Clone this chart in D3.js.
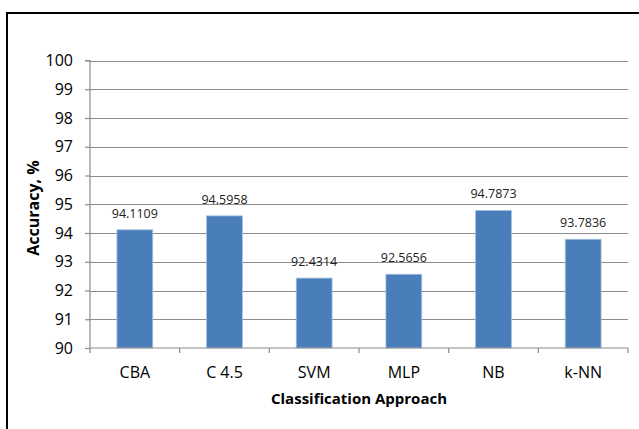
<!DOCTYPE html>
<html>
<head>
<meta charset="utf-8">
<script src="https://cdn.jsdelivr.net/npm/d3@7"></script>
<style>
  html, body { margin: 0; padding: 0; background: #fff; }
  svg { display: block; }
  text { font-family: "Open Sans", "Liberation Sans", sans-serif; fill: #000; }
</style>
</head>
<body>
<svg id="chart" width="639" height="429"></svg>
<script>
// Classification accuracy per approach
const categories = ["CBA", "C 4.5", "SVM", "MLP", "NB", "k-NN"];
const accuracy = [94.1109, 94.5958, 92.4314, 92.5656, 94.7873, 93.7836];
const yTicks = [90, 91, 92, 93, 94, 95, 96, 97, 98, 99, 100];

const svg = d3.select("#chart");
const margin = { left: 90, right: 11, top: 60.5, bottom: 81 };
const W = 639, H = 429;

// outer frame
svg.append("rect")
  .attr("x", 7).attr("y", 13)
  .attr("width", W + 10).attr("height", H + 10)
  .attr("fill", "none").attr("stroke", "#000").attr("stroke-width", 2);

const x = d3.scaleBand()
  .domain(categories)
  .range([margin.left, W - margin.right])
  .paddingInner(0.6).paddingOuter(0.3);

const y = d3.scaleLinear()
  .domain([90, 100])
  .range([H - margin.bottom, margin.top]);

// horizontal gridlines
svg.append("g")
  .selectAll("line")
  .data(yTicks.slice(1))
  .join("line")
  .attr("x1", margin.left).attr("x2", W - margin.right)
  .attr("y1", d => Math.round(y(d)) + 0.5).attr("y2", d => Math.round(y(d)) + 0.5)
  .attr("stroke", "#8c8c8c").attr("stroke-width", 1.2);

// bars
svg.append("g")
  .selectAll("rect")
  .data(categories)
  .join("rect")
  .attr("x", (d) => x(d))
  .attr("width", x.bandwidth())
  .attr("y", (d, i) => y(accuracy[i]))
  .attr("height", (d, i) => y(90) - y(accuracy[i]))
  .attr("fill", "#4a7ebb")
  .attr("stroke", "#a9c2e2").attr("stroke-width", 0.8);

// value labels
svg.append("g")
  .selectAll("text")
  .data(categories)
  .join("text")
  .attr("x", d => x(d) + x.bandwidth() / 2)
  .attr("y", (d, i) => y(accuracy[i]) - 12)
  .attr("text-anchor", "middle")
  .style("font-size", "12.5px")
  .style("fill", "#222")
  .text((d, i) => accuracy[i].toFixed(4));

// y axis
const yAxis = svg.append("g")
  .attr("transform", `translate(${margin.left},0)`)
  .call(d3.axisLeft(y).tickValues(yTicks).tickSize(5).tickPadding(12).tickFormat(d3.format("d")));
yAxis.select(".domain").attr("stroke", "#8c8c8c").attr("stroke-width", 1.2).attr("d", `M-5,${y(100)}H0V${y(90)}`);
yAxis.selectAll(".tick line").attr("stroke", "#8c8c8c").attr("stroke-width", 1.2);
yAxis.selectAll(".tick text").style("font-size", "16px").style("font-family", "'Open Sans', sans-serif").attr("fill", "#000");

// x axis with boundary ticks between categories
const xAxisG = svg.append("g").attr("transform", `translate(0,${y(90)})`);
xAxisG.append("line")
  .attr("x1", margin.left).attr("x2", W - margin.right)
  .attr("y1", 0).attr("y2", 0)
  .attr("stroke", "#8c8c8c").attr("stroke-width", 1.2);
const boundaries = d3.range(categories.length + 1).map(i => margin.left + (W - margin.left - margin.right) * i / categories.length);
xAxisG.selectAll(".bt")
  .data(boundaries)
  .join("line")
  .attr("x1", d => d).attr("x2", d => d)
  .attr("y1", 0).attr("y2", 5)
  .attr("stroke", "#8c8c8c").attr("stroke-width", 1.2);
xAxisG.selectAll(".xl")
  .data(categories)
  .join("text")
  .attr("x", d => x(d) + x.bandwidth() / 2)
  .attr("y", 30)
  .attr("text-anchor", "middle")
  .style("font-size", "16px")
  .text(d => d);

// axis titles
svg.append("text")
  .attr("x", 359).attr("y", 404)
  .attr("text-anchor", "middle")
  .style("font-size", "15px").style("font-weight", "bold")
  .text("Classification Approach");

svg.append("text")
  .attr("transform", "translate(39,208) rotate(-90)")
  .attr("text-anchor", "middle")
  .style("font-size", "16px").style("font-weight", "bold")
  .text("Accuracy, %");
</script>
</body>
</html>
